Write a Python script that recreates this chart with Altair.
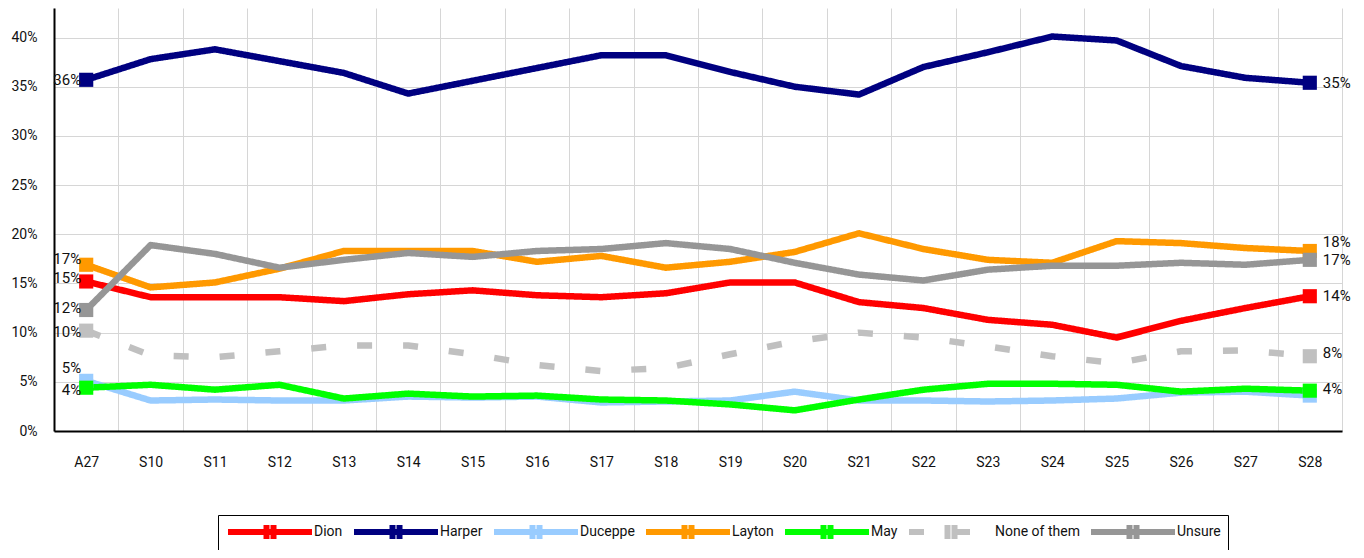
import altair as alt
import pandas as pd

dates = ["A27", "S10", "S11", "S12", "S13", "S14", "S15", "S16", "S17", "S18",
         "S19", "S20", "S21", "S22", "S23", "S24", "S25", "S26", "S27", "S28"]

dion = [15.2, 13.6, 13.6, 13.6, 13.2, 13.9, 14.3, 13.8, 13.6, 14.0,
        15.1, 15.1, 13.1, 12.5, 11.3, 10.8, 9.5, 11.2, 12.5, 13.7]
harper = [35.7, 37.8, 38.8, 37.6, 36.4, 34.3, 35.6, 36.9, 38.2, 38.2,
          36.5, 35.0, 34.2, 37.0, 38.5, 40.1, 39.7, 37.1, 35.9, 35.4]
duceppe = [5.1, 3.1, 3.2, 3.1, 3.1, 3.5, 3.4, 3.5, 2.9, 3.0,
           3.1, 4.0, 3.1, 3.1, 3.0, 3.1, 3.3, 3.9, 4.0, 3.6]
layton = [16.9, 14.6, 15.1, 16.5, 18.3, 18.3, 18.3, 17.2, 17.8, 16.6,
          17.2, 18.2, 20.1, 18.5, 17.4, 17.1, 19.3, 19.1, 18.6, 18.3]
may = [4.4, 4.7, 4.2, 4.7, 3.3, 3.8, 3.5, 3.6, 3.2, 3.1,
       2.7, 2.1, 3.2, 4.2, 4.8, 4.8, 4.7, 4.0, 4.3, 4.1]
none_of_them = [10.2, 7.7, 7.5, 8.1, 8.7, 8.7, 7.8, 6.7, 6.1, 6.4,
                7.8, 9.1, 10.0, 9.5, 8.6, 7.6, 6.9, 8.1, 8.2, 7.6]
unsure = [12.3, 18.9, 18.0, 16.6, 17.4, 18.1, 17.7, 18.3, 18.5, 19.1,
          18.5, 17.1, 15.9, 15.3, 16.4, 16.8, 16.8, 17.1, 16.9, 17.4]

series_names = ["Dion", "Harper", "Duceppe", "Layton", "May", "None of them", "Unsure"]
series_values = [dion, harper, duceppe, layton, may, none_of_them, unsure]
colors = ["#FF0000", "#000080", "#99CCFF", "#FF9900", "#00FF00", "#C0C0C0", "#969696"]
dashes = [[1, 0], [1, 0], [1, 0], [1, 0], [1, 0], [15, 31], [1, 0]]

left_labels = ["Harper", "Layton", "Dion", "Unsure", "None of them", "Duceppe", "May"]
right_labels = ["Harper", "Layton", "Unsure", "Dion", "None of them", "May"]

rows = []
for name, vals in zip(series_names, series_values):
    for d, v in zip(dates, vals):
        rows.append({"date": d, "party": name, "value": v})
df = pd.DataFrame(rows)

FONT = "Roboto"
GRID = "#d6d6d6"

x_enc = alt.X(
    "date:N", sort=dates, bandPosition=0.5,
    scale=alt.Scale(type="band", paddingInner=0, paddingOuter=0),
    axis=alt.Axis(title=None, labelAngle=0, tickBand="extent", ticks=False,
                  grid=True, gridColor=GRID, gridWidth=1,
                  domainColor="black", domainWidth=2,
                  labelPadding=24, labelFont=FONT, labelFontSize=14,
                  labelColor="#111"),
)
y_enc = alt.Y(
    "value:Q",
    scale=alt.Scale(domain=[0, 43], nice=False, zero=True),
    axis=alt.Axis(title=None, values=[0, 5, 10, 15, 20, 25, 30, 35, 40],
                  labelExpr="datum.value + '%'", ticks=False,
                  grid=True, gridColor=GRID, gridWidth=1,
                  domainColor="black", domainWidth=2,
                  labelPadding=17, labelFont=FONT, labelFontSize=14,
                  labelColor="#111"),
)

# line with a square marker in its middle, extending to the right of the symbol slot
legend_symbol = "M-1,0H11M4.5,-1V1M5.5,-1V1"
legend = alt.Legend(
    title=None, orient="none", legendX=164, legendY=507, direction="horizontal",
    columns=7, symbolType=legend_symbol,
    symbolSize=196, symbolStrokeWidth=6, labelFont=FONT, labelFontSize=14,
    labelColor="#111", labelOffset=69, columnPadding=-1, padding=7,
    strokeColor="black", symbolOffset=0,
)

base = alt.Chart(df)

lines = base.mark_line(strokeWidth=6.5, strokeCap="butt", strokeJoin="round").encode(
    x=x_enc, y=y_enc,
    color=alt.Color("party:N", scale=alt.Scale(domain=series_names, range=colors),
                    legend=legend),
    strokeDash=alt.StrokeDash("party:N", scale=alt.Scale(domain=series_names, range=dashes),
                              legend=legend),
    order=alt.Order("date_idx:Q"),
).transform_calculate(
    date_idx="indexof(" + str(dates) + ", datum.date)"
)

markers = base.transform_filter(
    alt.FieldOneOfPredicate(field="date", oneOf=[dates[0], dates[-1]])
).mark_square(size=200, opacity=1, filled=True).encode(
    x=x_enc, y=y_enc,
    fill=alt.Fill("party:N", scale=alt.Scale(domain=series_names, range=colors), legend=None),
)

left_dy = {"Harper": 0, "Layton": -6, "Dion": -3, "Unsure": -2,
           "None of them": 1, "Duceppe": -13, "May": 2}
right_dy = {"Harper": 0, "Layton": -9, "Unsure": 0, "Dion": 0,
            "None of them": -3, "May": -2}

text_layers = []
for name in left_labels:
    text_layers.append(
        base.transform_filter(
            (alt.datum.party == name) & (alt.datum.date == dates[0])
        ).transform_calculate(
            lbl="format(datum.value, '.0f') + '%'"
        ).mark_text(align="right", baseline="middle", dx=-5, dy=left_dy[name],
                    font=FONT, fontSize=15, color="#111").encode(
            x=x_enc, y=y_enc, text="lbl:N")
    )
for name in right_labels:
    text_layers.append(
        base.transform_filter(
            (alt.datum.party == name) & (alt.datum.date == dates[-1])
        ).transform_calculate(
            lbl="format(datum.value, '.0f') + '%'"
        ).mark_text(align="left", baseline="middle", dx=13, dy=right_dy[name],
                    font=FONT, fontSize=15, color="#111").encode(
            x=x_enc, y=y_enc, text="lbl:N")
    )

chart = alt.layer(lines, markers, *text_layers).properties(
    width=1288, height=423,
    autosize=alt.AutoSizeParams(type="none"),
    padding={"left": 46, "top": 0, "right": 14, "bottom": 119},
).configure_view(stroke=None)

chart.save("out.html", embed_options={"renderer": "svg", "actions": False})
